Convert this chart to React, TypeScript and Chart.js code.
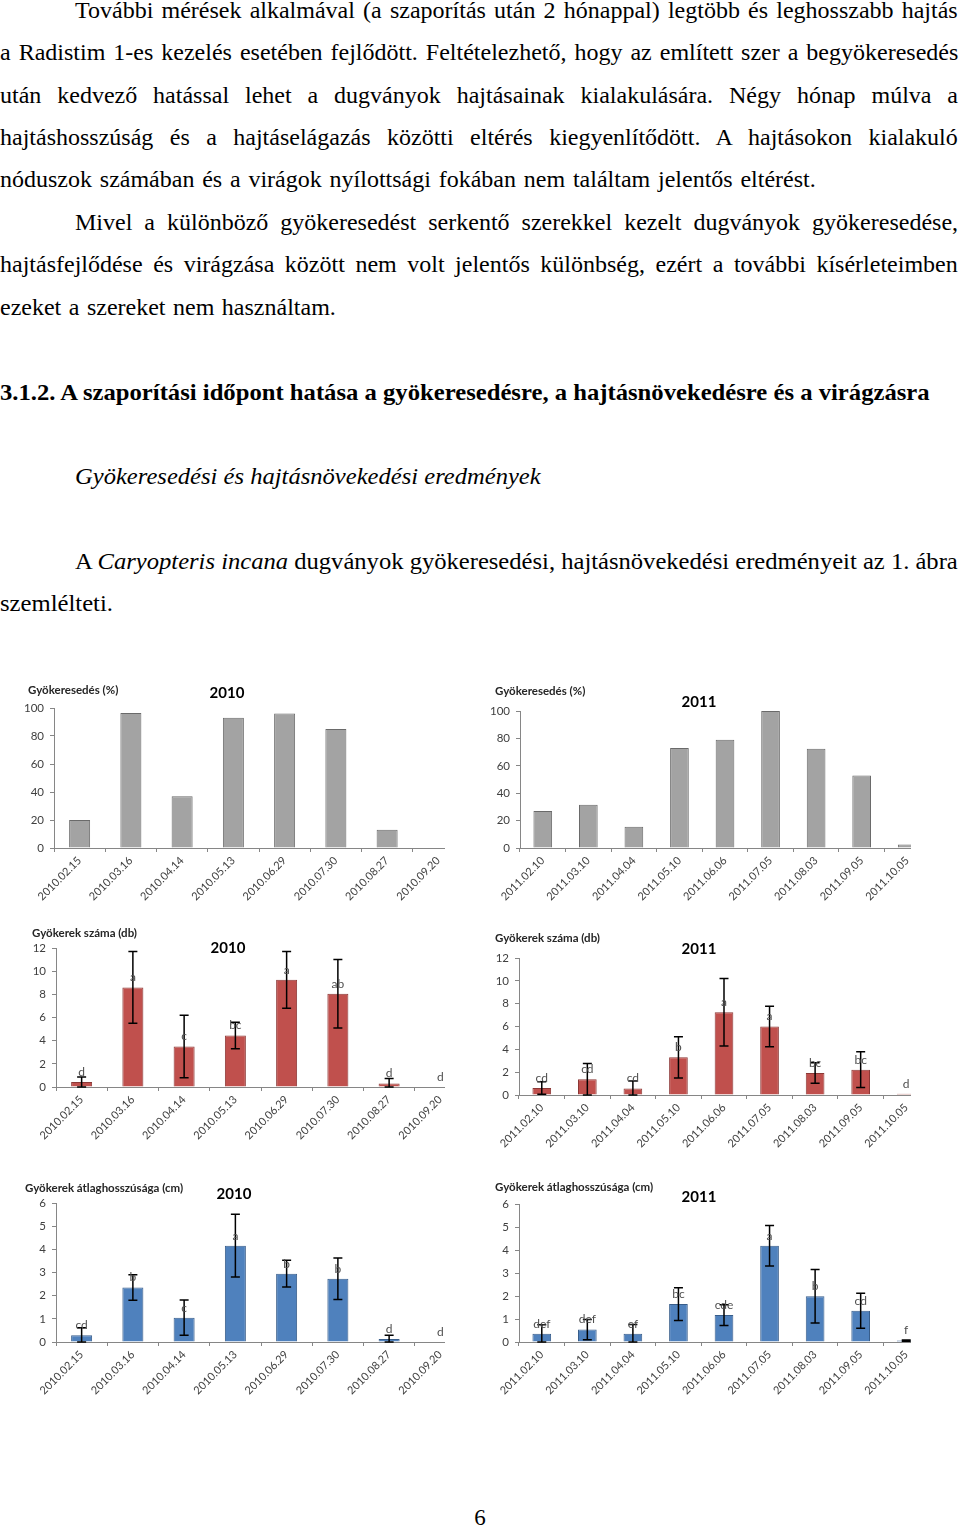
import React, { useEffect, useLayoutEffect, useRef } from 'react';
import { Chart, registerables } from 'chart.js';
Chart.register(...registerables);

// ---------- data ----------
const dates2010 = ['2010.02.15', '2010.03.16', '2010.04.14', '2010.05.13', '2010.06.29', '2010.07.30', '2010.08.27', '2010.09.20'];
const dates2011 = ['2011.02.10', '2011.03.10', '2011.04.04', '2011.05.10', '2011.06.06', '2011.07.05', '2011.08.03', '2011.09.05', '2011.10.05'];

const rooting2010 = [20, 96.5, 37, 93, 96, 85, 13, 0];
const rooting2011 = [27, 31.5, 15.5, 73, 79, 100, 72.5, 53, 2.5];

const rootCount2010 = [0.43, 8.6, 3.5, 4.45, 9.25, 8.05, 0.3, 0];
const rootCountErr2010 = [0.43, 3.1, 2.7, 1.15, 2.45, 2.95, 0.43, 0];
const rootCountLetters2010 = ['d', 'a', 'c', 'bc', 'a', 'ab', 'd', 'd'];

const rootCount2011 = [0.62, 1.37, 0.58, 3.3, 7.25, 6.0, 1.93, 2.22, 0.1];
const rootCountErr2011 = [0.55, 1.4, 0.65, 1.8, 2.95, 1.78, 0.9, 1.56, 0];
const rootCountLetters2011 = ['cd', 'cd', 'cd', 'b', 'a', 'a', 'bc', 'bc', 'd'];

const rootLen2010 = [0.29, 2.35, 1.05, 4.16, 2.95, 2.73, 0.13, 0];
const rootLenErr2010 = [0.32, 0.55, 0.76, 1.35, 0.58, 0.9, 0.16, 0];
const rootLenLetters2010 = ['cd', 'b', 'c', 'a', 'b', 'b', 'd', 'd'];

const rootLen2011 = [0.36, 0.54, 0.36, 1.65, 1.17, 4.18, 1.99, 1.36, 0.06];
const rootLenErr2011 = [0.39, 0.44, 0.4, 0.71, 0.45, 0.88, 1.16, 0.76, 0.03];
const rootLenLetters2011 = ['def', 'def', 'ef', 'bc', 'cde', 'a', 'b', 'cd', 'f'];

const yLabelRooting = 'Gyökeresedés (%)';
const yLabelCount = 'Gyökerek száma (db)';
const yLabelLength = 'Gyökerek átlaghosszúsága (cm)';

// ---------- layout helpers ----------
const SERIF = '"Liberation Serif", "Times New Roman", serif';
const SANS = 'Lato, "Open Sans", sans-serif';

type LineProps = {
  x: number;
  baseline: number;
  width: number;
  mode: 'justify' | 'scale';
  size?: number;
  bold?: boolean;
  italic?: boolean;
  children: React.ReactNode;
};

function TextLine({ x, baseline, width, mode, size = 24, bold, italic, children }: LineProps) {
  const ref = useRef<HTMLSpanElement>(null);
  useLayoutEffect(() => {
    const fit = () => {
      const el = ref.current;
      if (!el) return;
      el.style.wordSpacing = '0px';
      el.style.transform = 'none';
      const nat = el.offsetWidth;
      if (mode === 'justify') {
        const spaces = (el.textContent || '').split(' ').length - 1;
        if (spaces > 0) el.style.wordSpacing = (width - nat) / spaces + 'px';
      } else {
        el.style.transform = `scaleX(${width / nat})`;
      }
    };
    fit();
    if ((document as any).fonts && (document as any).fonts.ready) {
      (document as any).fonts.ready.then(fit);
    }
  });
  const top = baseline - (15 + 0.3375 * size);
  return (
    <div
      style={{
        position: 'absolute',
        left: x,
        top,
        whiteSpace: 'nowrap',
        lineHeight: '30px',
        fontSize: size,
        fontFamily: SERIF,
        fontWeight: bold ? 'bold' : 'normal',
        fontStyle: italic ? 'italic' : 'normal',
        color: '#000',
      }}
    >
      <span ref={ref} style={{ display: 'inline-block', transformOrigin: '0 0' }}>
        {children}
      </span>
    </div>
  );
}

function Label({ x, y, text, size, bold, center, color }: { x: number; y: number; text: string; size: number; bold?: boolean; center?: boolean; color: string }) {
  return (
    <div
      style={{
        position: 'absolute',
        left: x,
        top: y - 10,
        lineHeight: '20px',
        height: 20,
        whiteSpace: 'nowrap',
        fontFamily: SANS,
        fontSize: size,
        fontWeight: bold ? 'bold' : 'normal',
        color,
        transform: center ? 'translateX(-50%)' : undefined,
      }}
    >
      {text}
    </div>
  );
}

type Area = { left: number; right: number; top: number; bottom: number };

type BarProps = {
  labels: string[];
  values: number[];
  errors?: number[];
  letters?: string[];
  color: string;
  border: string;
  yMax: number;
  yStep: number;
  area: Area;
  clipRight: number;
};

function BarChart({ labels, values, errors, letters, color, border, yMax, yStep, area, clipRight }: BarProps) {
  const ref = useRef<HTMLCanvasElement>(null);
  const canvasLeft = area.left - 44;
  const canvasTop = area.top - 30;
  const cw = Math.round(area.right - canvasLeft + 6);
  const ch = Math.round(area.bottom - canvasTop + 62);

  useEffect(() => {
    if (!ref.current) return;
    const annot = {
      id: 'errLetters',
      afterDatasetsDraw(chart: any) {
        const ctx = chart.ctx;
        const xs = chart.scales.x;
        const ys = chart.scales.y;
        ctx.save();
        if (errors) {
          ctx.strokeStyle = '#000';
          ctx.lineWidth = 1.5;
          values.forEach((v, i) => {
            const e = errors[i];
            if (!e) return;
            const px = xs.getPixelForValue(i);
            const t = ys.getPixelForValue(v + e);
            const b = ys.getPixelForValue(Math.max(v - e, 0));
            ctx.beginPath();
            ctx.moveTo(px, t);
            ctx.lineTo(px, b);
            ctx.moveTo(px - 4.5, t);
            ctx.lineTo(px + 4.5, t);
            ctx.moveTo(px - 4.5, b);
            ctx.lineTo(px + 4.5, b);
            ctx.stroke();
          });
        }
        if (letters) {
          ctx.fillStyle = '#505050';
          ctx.font = `12px ${SANS}`;
          ctx.textAlign = 'center';
          ctx.textBaseline = 'middle';
          values.forEach((v, i) => {
            ctx.fillText(letters[i], xs.getPixelForValue(i), ys.getPixelForValue(v) - 10);
          });
        }
        ctx.restore();
      },
    };
    const chart = new Chart(ref.current, {
      type: 'bar',
      data: {
        labels,
        datasets: [
          {
            data: values,
            backgroundColor: color,
            borderColor: border,
            borderWidth: 1,
            categoryPercentage: 1,
            barPercentage: 0.41,
          },
        ],
      },
      options: {
        responsive: false,
        animation: false,
        layout: { padding: { left: 6, top: 30, right: 6, bottom: 0 } },
        plugins: { legend: { display: false }, tooltip: { enabled: false }, title: { display: false } },
        scales: {
          x: {
            grid: { display: true, drawOnChartArea: false, drawTicks: true, tickLength: 4, color: '#868686' },
            border: { display: true, color: '#868686' },
            ticks: {
              autoSkip: false,
              minRotation: 45,
              maxRotation: 45,
              padding: 2,
              color: '#404040',
              font: { family: SANS, size: 11 },
            },
            afterFit: (s: any) => {
              s.height = 62;
            },
          },
          y: {
            min: 0,
            max: yMax,
            ticks: { stepSize: yStep, padding: 6, color: '#404040', font: { family: SANS, size: 11.5 } },
            grid: { display: true, drawOnChartArea: false, drawTicks: true, tickLength: 4, color: '#868686' },
            border: { display: true, color: '#868686' },
            afterFit: (s: any) => {
              s.width = 38;
            },
          },
        },
      } as any,
      plugins: [annot],
    });
    return () => chart.destroy();
  }, []);

  return (
    <div
      style={{
        position: 'absolute',
        left: canvasLeft,
        top: canvasTop,
        width: clipRight - canvasLeft,
        height: ch,
        overflow: 'hidden',
      }}
    >
      <canvas ref={ref} width={cw} height={ch} style={{ width: cw, height: ch, display: 'block' }} />
    </div>
  );
}

const GRAY = '#a3a3a3';
const GRAY_B = '#6a6a6a';
const RED = '#c0504d';
const RED_B = '#8c3836';
const BLUE = '#4f81bd';
const BLUE_B = '#385d8a';

export default function App() {
  return (
    <div style={{ position: 'absolute', left: 0, top: 0, width: 960, height: 1528, background: '#fff', overflow: 'hidden' }}>
      <TextLine x={75} baseline={18} width={883} mode="justify">További mérések alkalmával (a szaporítás után 2 hónappal) legtöbb és leghosszabb hajtás</TextLine>
      <TextLine x={0} baseline={60} width={958} mode="justify">a Radistim 1-es kezelés esetében fejlődött. Feltételezhető, hogy az említett szer a begyökeresedés</TextLine>
      <TextLine x={0} baseline={103} width={958} mode="justify">után kedvező hatással lehet a dugványok hajtásainak kialakulására. Négy hónap múlva a</TextLine>
      <TextLine x={0} baseline={145} width={958} mode="justify">hajtáshosszúság és a hajtáselágazás közötti eltérés kiegyenlítődött. A hajtásokon kialakuló</TextLine>
      <TextLine x={0} baseline={187} width={816} mode="justify">nóduszok számában és a virágok nyílottsági fokában nem találtam jelentős eltérést.</TextLine>
      <TextLine x={75} baseline={230} width={883} mode="justify">Mivel a különböző gyökeresedést serkentő szerekkel kezelt dugványok gyökeresedése,</TextLine>
      <TextLine x={0} baseline={272} width={958} mode="justify">hajtásfejlődése és virágzása között nem volt jelentős különbség, ezért a további kísérleteimben</TextLine>
      <TextLine x={0} baseline={315} width={336} mode="justify">ezeket a szereket nem használtam.</TextLine>

      <TextLine x={0} baseline={400} width={930} mode="scale" bold>3.1.2. A szaporítási időpont hatása a gyökeresedésre, a hajtásnövekedésre és a virágzásra</TextLine>
      <TextLine x={75} baseline={484} width={466} mode="scale" italic>Gyökeresedési és hajtásnövekedési eredmények</TextLine>
      <TextLine x={75} baseline={569} width={883} mode="scale">
        A <i>Caryopteris incana</i> dugványok gyökeresedési, hajtásnövekedési eredményeit az 1. ábra
      </TextLine>
      <TextLine x={0} baseline={611} width={113} mode="scale">szemlélteti.</TextLine>

      {/* Row 1 */}
      <BarChart labels={dates2010} values={rooting2010} color={GRAY} border={GRAY_B} yMax={100} yStep={20}
        area={{ left: 54.4, right: 464.8, top: 708.3, bottom: 848.3 }} clipRight={445} />
      <Label x={28} y={690} text={yLabelRooting} size={11.5} bold color="#262626" />
      <Label x={227} y={692} text="2010" size={15} bold center color="#000" />

      <BarChart labels={dates2011} values={rooting2011} color={GRAY} border={GRAY_B} yMax={100} yStep={20}
        area={{ left: 519.5, right: 929.9, top: 711, bottom: 848.3 }} clipRight={911} />
      <Label x={495} y={691} text={yLabelRooting} size={11.5} bold color="#262626" />
      <Label x={699} y={701} text="2011" size={15} bold center color="#000" />

      {/* Row 2 */}
      <BarChart labels={dates2010} values={rootCount2010} errors={rootCountErr2010} letters={rootCountLetters2010}
        color={RED} border={RED_B} yMax={12} yStep={2}
        area={{ left: 56, right: 466.4, top: 947.7, bottom: 1086.7 }} clipRight={445} />
      <Label x={32} y={933} text={yLabelCount} size={11.5} bold color="#262626" />
      <Label x={228} y={947} text="2010" size={15} bold center color="#000" />

      <BarChart labels={dates2011} values={rootCount2011} errors={rootCountErr2011} letters={rootCountLetters2011}
        color={RED} border={RED_B} yMax={12} yStep={2}
        area={{ left: 519.3, right: 929.7, top: 958.3, bottom: 1095.7 }} clipRight={911} />
      <Label x={495} y={938} text={yLabelCount} size={11.5} bold color="#262626" />
      <Label x={699} y={948} text="2011" size={15} bold center color="#000" />

      {/* Row 3 */}
      <BarChart labels={dates2010} values={rootLen2010} errors={rootLenErr2010} letters={rootLenLetters2010}
        color={BLUE} border={BLUE_B} yMax={6} yStep={1}
        area={{ left: 55.5, right: 465.9, top: 1203.3, bottom: 1342.3 }} clipRight={445} />
      <Label x={25} y={1188} text={yLabelLength} size={11.5} bold color="#262626" />
      <Label x={234} y={1193} text="2010" size={15} bold center color="#000" />

      <BarChart labels={dates2011} values={rootLen2011} errors={rootLenErr2011} letters={rootLenLetters2011}
        color={BLUE} border={BLUE_B} yMax={6} yStep={1}
        area={{ left: 519.3, right: 929.7, top: 1204.3, bottom: 1342.3 }} clipRight={911} />
      <Label x={495} y={1187} text={yLabelLength} size={11.5} bold color="#262626" />
      <Label x={699} y={1196} text="2011" size={15} bold center color="#000" />

      <div style={{ position: 'absolute', left: 0, width: 960, top: 1503, textAlign: 'center', fontFamily: SERIF, fontSize: 23, lineHeight: '30px' }}>6</div>
    </div>
  );
}
